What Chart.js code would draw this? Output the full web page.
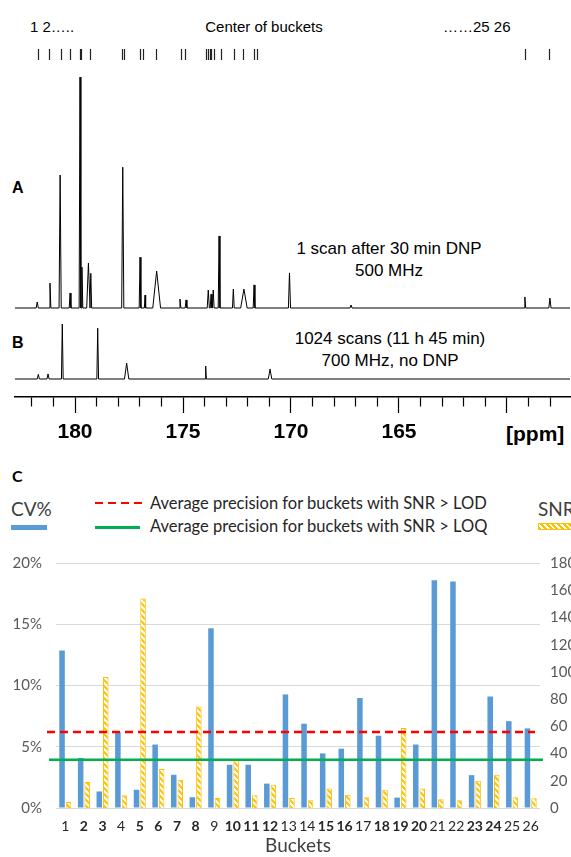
<!DOCTYPE html>
<html>
<head>
<meta charset="utf-8">
<script src="https://cdn.jsdelivr.net/npm/chart.js@4.4.1/dist/chart.umd.min.js"></script>
<style>
  body { margin: 0; width: 571px; height: 857px; overflow: hidden; position: relative; background: #fff;
         font-family: "Liberation Sans", Arial, sans-serif; }
  .t { position: absolute; white-space: nowrap; color: #000; }
  .lato { font-family: Lato, "Open Sans", sans-serif; }
  canvas { position: absolute; left: 0; }
</style>
</head>
<body>

<!-- bucket header -->
<div class="t" style="left:30px;top:19px;font-size:15px;line-height:15px">1 2…..</div>
<div class="t" style="left:264px;top:19px;font-size:15px;line-height:15px;transform:translateX(-50%)">Center of buckets</div>
<div class="t" style="left:443px;top:19px;font-size:15px;line-height:15px">……25 26</div>

<!-- spectrum labels -->
<div class="t" style="left:12px;top:180px;font-size:16px;line-height:16px;font-weight:bold">A</div>
<div class="t" style="left:12px;top:335px;font-size:16px;line-height:16px;font-weight:bold">B</div>
<div class="t" style="left:289px;top:238px;width:200px;text-align:center;font-size:17px;line-height:22px">1 scan after 30 min DNP<br>500 MHz</div>
<div class="t" style="left:290px;top:328px;width:200px;text-align:center;font-size:17px;line-height:22px">1024 scans (11 h 45 min)<br>700 MHz, no DNP</div>
<div class="t" style="left:506px;top:423px;font-size:21px;line-height:22px;font-weight:bold">[ppm]</div>

<canvas id="spec" style="top:40px" width="571" height="405"></canvas>

<!-- panel C header and legend -->
<div class="t lato" style="left:12px;top:468px;font-size:16px;line-height:16px;font-weight:bold">C</div>
<div class="t lato" style="left:11px;top:499px;font-size:19px;line-height:19px;color:#404040">CV%</div>
<div style="position:absolute;left:11px;top:525px;width:36px;height:5px;background:#5B9BD5"></div>
<div style="position:absolute;left:95px;top:501.5px;width:47px;height:2.5px;background:repeating-linear-gradient(to right,#FF0000 0 8px,transparent 8px 13px)"></div>
<div class="t lato" style="left:150px;top:494.5px;font-size:16.5px;line-height:17px;color:#262626">Average precision for buckets with SNR &gt; LOD</div>
<div style="position:absolute;left:95px;top:525.5px;width:45px;height:3px;background:#00B050"></div>
<div class="t lato" style="left:150px;top:517.5px;font-size:16.5px;line-height:17px;color:#262626">Average precision for buckets with SNR &gt; LOQ</div>
<div class="t lato" style="left:538px;top:499px;font-size:19px;line-height:19px;color:#404040">SNR</div>
<div style="position:absolute;left:538px;top:523px;width:40px;height:5px;border:1px solid #FFC000;background:repeating-linear-gradient(45deg,#FFC000 0 2px,#fff 2px 4px)"></div>

<canvas id="bars" style="top:540px" width="571" height="317"></canvas>

<script>
// ---- spectra (ppm, relative intensity, half width of the line in ppm)
var ppmMin = 157.08, ppmMax = 182.78;
var ppmLabels = [180, 175, 170, 165];

var peaksA_ppm = [181.75, 181.16, 180.69, 180.23, 179.77, 179.68, 179.38, 179.27, 177.79, 176.99, 176.76, 176.22,
                  175.14, 174.86, 173.83, 173.70, 173.60, 173.33, 172.67, 172.18, 171.71, 170.07, 167.22, 159.17, 158.01];
var peaksA_int = [2.6, 10.8, 57.6, 6.5, 100, 17.7, 19.5, 15, 61, 22, 5.6, 16,
                  3.9, 3.5, 7.8, 6, 7.8, 31.2, 8.2, 8.2, 10, 15.2, 1.3, 4.8, 4.3];
var peaksA_hw  = [0.05, 0.04, 0.05, 0.04, 0.04, 0.04, 0.08, 0.04, 0.05, 0.04, 0.03, 0.18,
                  0.04, 0.04, 0.05, 0.04, 0.04, 0.04, 0.04, 0.15, 0.04, 0.05, 0.05, 0.04, 0.05];

var peaksB_ppm = [181.70, 181.25, 180.59, 178.95, 177.61, 173.95, 170.97];
var peaksB_int = [2, 2.2, 23.8, 22, 6.9, 5.6, 4.3];
var peaksB_hw  = [0.05, 0.05, 0.04, 0.04, 0.10, 0.03, 0.08];

// bucket centres marked above the spectra
var bucketCenters = [181.70, 181.16, 180.62, 180.19, 179.74, 179.68, 179.29, 177.79, 177.72, 176.96, 176.84, 176.22,
                     175.09, 174.89, 173.90, 173.83, 173.75, 173.67, 173.56, 173.23, 172.63, 172.18, 171.67, 171.56,
                     159.12, 158.01];

// ---- panel C
var buckets = ['1','2','3','4','5','6','7','8','9','10','11','12','13','14','15','16','17','18','19','20','21','22','23','24','25','26'];
var boldBuckets = [2, 3, 5, 6, 7, 8, 10, 11, 12, 15, 16, 18, 19, 20, 23, 24];
var cvPct = [12.85, 4.09, 1.35, 6.2, 1.49, 5.18, 2.71, 0.88, 14.68, 3.53, 3.53, 1.99, 9.27,
             6.88, 4.46, 4.84, 8.98, 5.9, 0.85, 5.18, 18.6, 18.5, 2.68, 9.1, 7.09, 6.5];
var snr = [4.5, 19.1, 96.3, 9.3, 154, 28.7, 20.8, 74.6, 7.4, 35.1, 9.3, 17.0, 7.4,
           5.7, 14.3, 9.8, 7.9, 13.4, 58.8, 14.3, 6.5, 5.7, 20.1, 24.4, 7.9, 7.2];
var lodAvg = 6.2;
var loqAvg = 3.93;

function trace(pos, h, hw) {
  var pts = [{x: ppmMax, y: 0}];
  pos.forEach(function(p, i) {
    pts.push({x: p + hw[i], y: 0}, {x: p, y: h[i]}, {x: p - hw[i], y: 0});
  });
  pts.push({x: ppmMin, y: 0});
  return pts;
}

Chart.defaults.font.family = '"Liberation Sans", Arial, sans-serif';

new Chart(document.getElementById('spec'), {
  type: 'scatter',
  data: {
    datasets: [
      {data: trace(peaksA_ppm, peaksA_int, peaksA_hw), yAxisID: 'yA', showLine: true,
       borderColor: '#000', borderWidth: 1, pointRadius: 0, tension: 0},
      {data: trace(peaksB_ppm, peaksB_int, peaksB_hw), yAxisID: 'yB', showLine: true,
       borderColor: '#000', borderWidth: 1, pointRadius: 0, tension: 0}
    ]
  },
  options: {
    responsive: false,
    animation: false,
    layout: {padding: {top: 9, left: 15, right: 1, bottom: 0}},
    plugins: {legend: {display: false}, tooltip: {enabled: false}},
    scales: {
      x: {
        type: 'linear', position: 'bottom', reverse: true, min: ppmMin, max: ppmMax,
        border: {color: '#000', width: 1.5},
        grid: {
          drawOnChartArea: false, tickLength: 16, tickColor: '#000', tickWidth: 1.2,
          tickBorderDash: function(c) { return (c.tick && c.tick.value % 5 === 0) ? [] : [9, 30]; }
        },
        ticks: {
          stepSize: 1, includeBounds: false, autoSkip: false, maxRotation: 0, padding: 7, color: '#000',
          font: {size: 21, weight: 'bold'},
          callback: function(v) { return ppmLabels.indexOf(v) >= 0 ? String(v) : ''; }
        },
        afterFit: function(s) { s.height = 48; }
      },
      xt: {
        type: 'linear', position: 'top', reverse: true, min: ppmMin, max: ppmMax,
        border: {display: false},
        grid: {drawOnChartArea: false, tickLength: 11, tickColor: '#222', tickWidth: 1.2},
        ticks: {display: false},
        afterBuildTicks: function(s) { s.ticks = bucketCenters.map(function(v) { return {value: v}; }); }
      },
      yA: {stack: 'nmr', stackWeight: 253, weight: 2, min: -2.16, max: 107.4, display: false},
      yB: {stack: 'nmr', stackWeight: 84, weight: 1, min: -7.8, max: 28.6, display: false}
    }
  }
});

// diagonal yellow hatching for the SNR bars
function hatch() {
  var c = document.createElement('canvas');
  c.width = 6; c.height = 6;
  var g = c.getContext('2d');
  g.fillStyle = '#fff';
  g.fillRect(0, 0, 6, 6);
  g.strokeStyle = '#FFC000';
  g.lineWidth = 2;
  g.beginPath();
  g.moveTo(-1, -1); g.lineTo(7, 7);
  g.moveTo(-1, 5); g.lineTo(1, 7);
  g.moveTo(5, -1); g.lineTo(7, 1);
  g.stroke();
  return g.createPattern(c, 'repeat');
}

var refLines = {
  id: 'refLines',
  afterDatasetsDraw: function(chart) {
    var ctx = chart.ctx, a = chart.chartArea, y = chart.scales.y;
    ctx.save();
    ctx.lineWidth = 2.5;
    ctx.strokeStyle = '#FF0000';
    ctx.setLineDash([8, 5]);
    var yl = y.getPixelForValue(lodAvg);
    ctx.beginPath(); ctx.moveTo(a.left - 9, yl); ctx.lineTo(a.right - 5, yl); ctx.stroke();
    ctx.setLineDash([]);
    ctx.strokeStyle = '#00B050';
    var yq = y.getPixelForValue(loqAvg);
    ctx.beginPath(); ctx.moveTo(a.left - 7, yq); ctx.lineTo(a.right + 3, yq); ctx.stroke();
    ctx.restore();
  }
};

new Chart(document.getElementById('bars'), {
  type: 'bar',
  data: {
    labels: buckets,
    datasets: [
      {label: 'CV%', data: cvPct, yAxisID: 'y', backgroundColor: '#5B9BD5', borderWidth: 0,
       categoryPercentage: 0.7, barPercentage: 0.85},
      {label: 'SNR', data: snr, yAxisID: 'y1', backgroundColor: hatch(), borderColor: '#FFC000', borderWidth: 1,
       categoryPercentage: 0.7, barPercentage: 0.85}
    ]
  },
  options: {
    responsive: false,
    animation: false,
    layout: {padding: {top: 16, left: 0, right: 0, bottom: 0}},
    plugins: {legend: {display: false}, tooltip: {enabled: false}},
    scales: {
      x: {
        grid: {display: false},
        border: {display: false},
        ticks: {
          padding: 2, color: '#262626', autoSkip: false, maxRotation: 0,
          font: function(c) {
            return {family: 'Lato', size: 14, weight: boldBuckets.indexOf(c.index + 1) >= 0 ? 'bold' : 'normal'};
          }
        },
        title: {display: true, text: 'Buckets', color: '#404040', font: {family: 'Lato', size: 19},
                padding: {top: 0, bottom: 0}},
        afterFit: function(s) { s.height = 49; }
      },
      y: {
        position: 'left', min: 0, max: 20,
        border: {display: false},
        grid: {color: '#D9D9D9', drawTicks: false},
        ticks: {stepSize: 5, padding: 14, color: '#595959', font: {family: 'Lato', size: 15},
                callback: function(v) { return v + '%'; }},
        afterFit: function(s) { s.width = 56; }
      },
      y1: {
        position: 'right', min: 0, max: 180,
        border: {display: false},
        grid: {display: false, drawTicks: false},
        ticks: {stepSize: 20, padding: 10, color: '#595959', font: {family: 'Lato', size: 15}},
        afterFit: function(s) { s.width = 31; }
      }
    }
  },
  plugins: [refLines]
});
</script>
</body>
</html>
